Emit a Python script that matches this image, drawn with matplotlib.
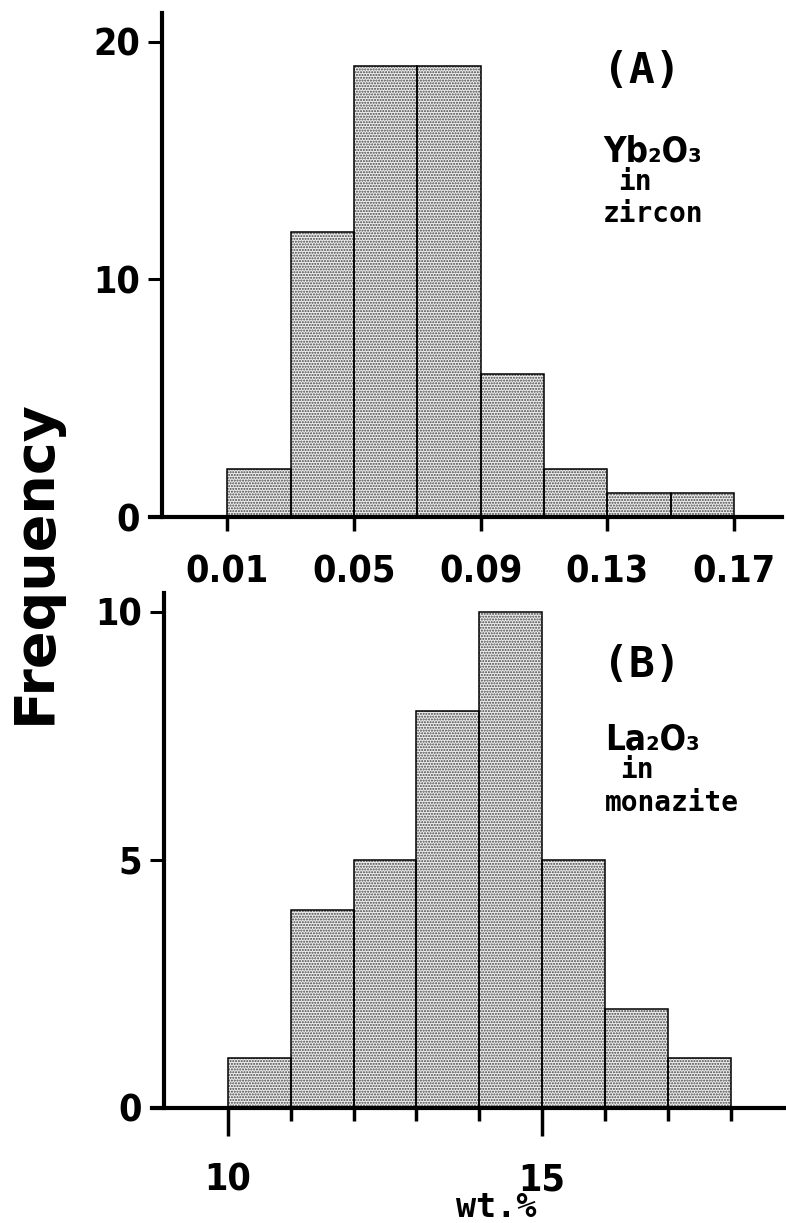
import matplotlib
matplotlib.use("Agg")
import matplotlib.pyplot as plt
from matplotlib.ticker import FixedLocator

# ---- data ----
zr_edges = [0.01, 0.03, 0.05, 0.07, 0.09, 0.11, 0.13, 0.15, 0.17]
zr_counts = [2, 12, 19, 19, 6, 2, 1, 1]
zr_xticks = [0.01, 0.05, 0.09, 0.13, 0.17]
zr_xticklabels = ["0.01", "0.05", "0.09", "0.13", "0.17"]
zr_yticks = [0, 10, 20]

mz_edges = [10, 11, 12, 13, 14, 15, 16, 17, 18]
mz_counts = [1, 4, 5, 8, 10, 5, 2, 1]
mz_xticks = [10, 15]
mz_xminor = [11, 12, 13, 14, 16, 17, 18]
mz_yticks = [0, 5, 10]

NUM_FONT = ["DejaVu Sans"]
MONO_FONT = ["DejaVu Sans Mono"]

W, H = 786, 1223
fig = plt.figure(figsize=(W / 100, H / 100), dpi=100)


def px_axes(left, right, top, bottom):
    return fig.add_axes([left / W, 1 - bottom / H, (right - left) / W, (bottom - top) / H])


def draw_hist(ax, edges, counts):
    lefts = edges[:-1]
    widths = [b - a for a, b in zip(edges[:-1], edges[1:])]
    ax.bar(lefts, counts, width=widths, align="edge", facecolor="#eeeeee",
           edgecolor="#444444", hatch="......", linewidth=0, zorder=2)
    ax.bar(lefts, counts, width=widths, align="edge", facecolor="none",
           edgecolor="black", linewidth=1.1, zorder=3)


def style(ax, spine_x):
    for s in ["top", "right"]:
        ax.spines[s].set_visible(False)
    ax.spines["left"].set_position(("data", spine_x))
    ax.spines["left"].set_linewidth(3)
    ax.spines["bottom"].set_linewidth(3)
    ax.spines["left"].set_bounds(0, ax.get_ylim()[1])
    ax.tick_params(axis="y", direction="out", length=10, width=2.2, pad=6)
    for lab in ax.get_yticklabels() + ax.get_xticklabels():
        lab.set_family(NUM_FONT)
        lab.set_fontstretch("condensed")
        lab.set_fontweight("bold")
        lab.set_fontsize(27)


# ---- top panel (A) ----
ax1 = px_axes(150, 782, 13, 517)
draw_hist(ax1, zr_edges, zr_counts)
ax1.set_xlim(-0.01444, 0.1852)
ax1.set_ylim(0, 21.22)
ax1.set_xticks(zr_xticks)
ax1.set_xticklabels(zr_xticklabels)
ax1.set_yticks(zr_yticks)
ax1.tick_params(axis="x", direction="out", length=10, width=2.5, pad=17)
style(ax1, -0.01063)

# ---- bottom panel (B) ----
ax2 = px_axes(152, 786, 593, 1108)
draw_hist(ax2, mz_edges, mz_counts)
ax2.set_xlim(8.792, 18.88)
ax2.set_ylim(0, 10.38)
ax2.set_xticks(mz_xticks)
ax2.xaxis.set_minor_locator(FixedLocator(mz_xminor))
ax2.set_yticks(mz_yticks)
ax2.tick_params(axis="x", which="major", direction="out", length=20, width=2.5, pad=19)
ax2.tick_params(axis="x", which="minor", direction="out", length=9, width=2.5)
style(ax2, 8.983)

# ---- texts ----
fig.text(35 / W, 1 - 562 / H, "Frequency", rotation=90, ha="center", va="center",
         fontsize=40, fontweight="bold", family=["DejaVu Sans"])
fig.text(496 / W, 1 - 1217 / H, "wt.%", ha="center", va="baseline",
         fontsize=24, fontweight="bold", family=MONO_FONT)

fig.text(642 / W, 1 - 83 / H, "(A)", ha="center", va="baseline",
         fontsize=31, fontweight="bold", family=MONO_FONT)
fig.text(603 / W, 1 - 162 / H, "Yb\u2082O\u2083", ha="left", va="baseline",
         fontsize=25, fontweight="bold", fontstretch="condensed", family=NUM_FONT)
fig.text(618 / W, 1 - 190 / H, "in", ha="left", va="baseline",
         fontsize=20, fontweight="bold", family=MONO_FONT)
fig.text(603 / W, 1 - 222 / H, "zircon", ha="left", va="baseline",
         fontsize=20, fontweight="bold", family=MONO_FONT)

fig.text(642 / W, 1 - 677 / H, "(B)", ha="center", va="baseline",
         fontsize=31, fontweight="bold", family=MONO_FONT)
fig.text(605 / W, 1 - 750 / H, "La\u2082O\u2083", ha="left", va="baseline",
         fontsize=25, fontweight="bold", fontstretch="condensed", family=NUM_FONT)
fig.text(620 / W, 1 - 778 / H, "in", ha="left", va="baseline",
         fontsize=20, fontweight="bold", family=MONO_FONT)
fig.text(605 / W, 1 - 811 / H, "monazite", ha="left", va="baseline",
         fontsize=20, fontweight="bold", family=MONO_FONT)

fig.savefig("out.png", dpi=100)
